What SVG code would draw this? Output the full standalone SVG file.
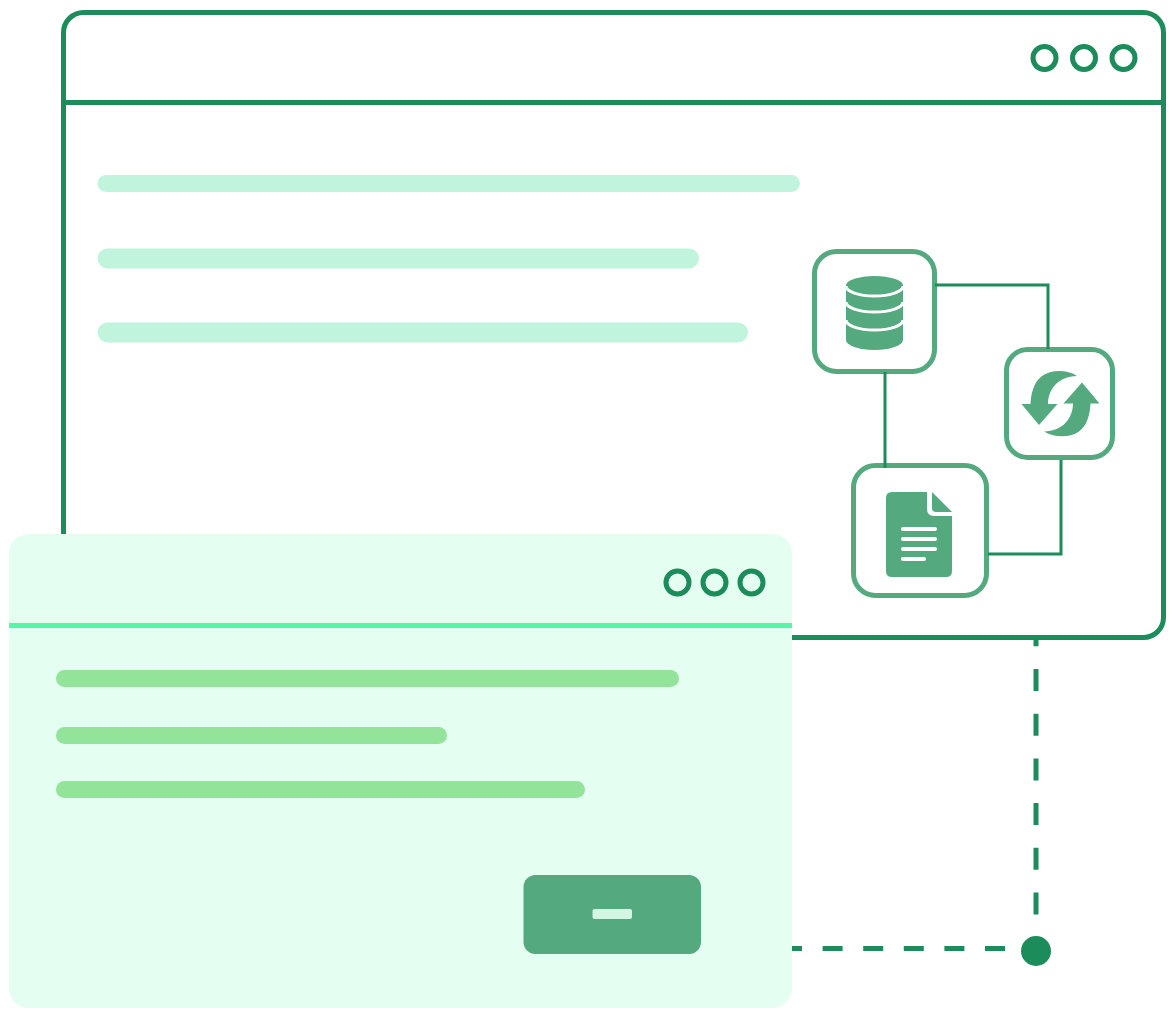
<svg xmlns="http://www.w3.org/2000/svg" width="1170" height="1020" viewBox="0 0 1170 1020">
<style>
.win{fill:#fff;stroke:#1c8c5a;stroke-width:5}
.rule{stroke:#1c8c5a;stroke-width:5;fill:none}
.dot{fill:#fff;stroke:#1c8c5a;stroke-width:5}
.dotf{fill:#e4fef1;stroke:#1c8c5a;stroke-width:5}
.bar{fill:#c0f4dc}
.barf{fill:#93e39a}
.box{fill:#fff;stroke:#54a97f;stroke-width:5}
.icon{fill:#54a97f}
.gap{fill:none;stroke:#fff;stroke-width:3}
.ln{fill:#fff}
.conn{fill:none;stroke:#1c8c5a;stroke-width:3}
.dash{fill:none;stroke:#1c8c5a;stroke-width:5}
</style>
<rect width="1170" height="1020" fill="#fff"/>
<g id="main-window">
<rect class="win" x="63.500" y="12.500" width="1100" height="625" rx="20"/>
<path class="rule" d="M63.500 102.500H1163.500"/>
<circle class="dot" cx="1044.500" cy="58" r="11.500"/>
<circle class="dot" cx="1084" cy="58" r="11.500"/>
<circle class="dot" cx="1123.500" cy="58" r="11.500"/>
<rect class="bar" x="97.500" y="175" width="702.500" height="17" rx="8.500"/>
<rect class="bar" x="97.500" y="248.500" width="601.500" height="20" rx="10"/>
<rect class="bar" x="97.500" y="322.500" width="650.500" height="20" rx="10"/>
</g>
<g id="node-database">
<rect class="box" x="814.500" y="251.500" width="120" height="120" rx="22"/>
<path class="icon" d="M846 285.500A28.500 9.500 0 0 1 903 285.500V340A28.500 10 0 0 1 846 340Z"/>
<path class="gap" d="M846 286A28.500 10 0 0 0 903 286M846 302A28.500 10 0 0 0 903 302M846 320A28.500 10 0 0 0 903 320"/>
</g>
<g id="node-sync">
<rect class="box" x="1006.500" y="349.500" width="106" height="108" rx="21"/>
<path class="icon" d="M1077 376C1068 370 1052 369 1042 376C1034 382 1031 393 1030.500 404H1021.500L1039 425L1057.500 404H1048C1048 390 1058 376 1077 376Z"/>
<path class="icon" transform="rotate(180 1060.500 403.700)" d="M1077 376C1068 370 1052 369 1042 376C1034 382 1031 393 1030.500 404H1021.500L1039 425L1057.500 404H1048C1048 390 1058 376 1077 376Z"/>
</g>
<g id="node-document">
<rect class="box" x="853.500" y="465.500" width="133" height="130" rx="22"/>
<path class="icon" d="M892 492H927V509Q927 516 934 516H952V571Q952 577 946 577H892Q886 577 886 571V498Q886 492 892 492Z"/>
<path class="icon" d="M932 492L952 512H936Q932 512 932 508Z"/>
<rect class="ln" x="901" y="527" width="36" height="4" rx="2"/>
<rect class="ln" x="901" y="537" width="36" height="4" rx="2"/>
<rect class="ln" x="901" y="547" width="36" height="4" rx="2"/>
<rect class="ln" x="901" y="557" width="25" height="4" rx="2"/>
</g>
<g id="connectors">
<path class="conn" d="M935 285H1048V349"/>
<path class="conn" d="M885 372V468"/>
<path class="conn" d="M1061 460V554H988"/>
<path class="dash" d="M1036 640V915" stroke-dasharray="22 22.700" stroke-dashoffset="15.700"/>
<path class="dash" d="M792 948.500H1005" stroke-dasharray="20 20.600" stroke-dashoffset="10"/>
</g>
<g id="end-dot"><circle cx="1036" cy="951" r="15" fill="#1c8c5a"/></g>
<g id="front-window">
<rect x="9" y="534" width="783" height="474" rx="20" fill="#e4fef1"/>
<rect x="9" y="623" width="783" height="5" fill="#57f5a8"/>
<circle class="dotf" cx="677.500" cy="582.500" r="11.500"/>
<circle class="dotf" cx="714.500" cy="582.500" r="11.500"/>
<circle class="dotf" cx="751.500" cy="582.500" r="11.500"/>
<rect class="barf" x="56" y="670" width="623" height="17" rx="8.500"/>
<rect class="barf" x="56" y="727" width="391" height="17" rx="8.500"/>
<rect class="barf" x="56" y="781" width="529" height="17" rx="8.500"/>
</g>
<g id="button">
<rect x="523.500" y="875" width="177.500" height="79" rx="12" fill="#54a97f"/>
<rect x="592.500" y="909" width="39.500" height="10" rx="2" fill="#d2f5e4"/>
</g>
</svg>
